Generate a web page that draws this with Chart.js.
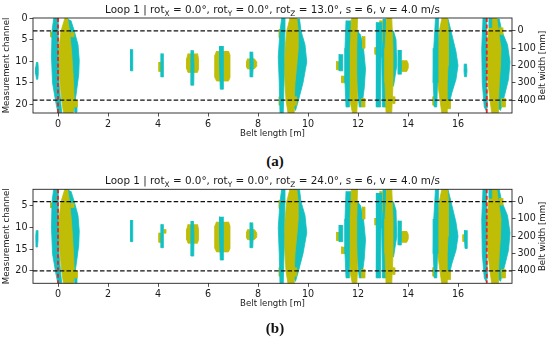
<!DOCTYPE html>
<html>
<head>
<meta charset="utf-8">
<script src="https://cdn.jsdelivr.net/npm/chart.js@4.4.1/dist/chart.umd.min.js"></script>
<style>
  body { margin: 0; background: #fff; }
  #wrap { position: relative; width: 550px; height: 340px; background: #fff; }
  canvas { position: absolute; left: 0; }
  .tag { position: absolute; width: 550px; text-align: center; font-family: "Liberation Serif", "DejaVu Serif", serif; font-weight: bold; font-size: 15px; line-height: 17px; color: #111; }
</style>
</head>
<body>
<div id="wrap">
  <canvas id="chartA" width="550" height="150" style="top:0px"></canvas>
  <div class="tag" style="top:153px">(a)</div>
  <canvas id="chartB" width="550" height="150" style="top:171px"></canvas>
  <div class="tag" style="top:320px">(b)</div>
</div>
<script>
// ticks
const xTicks = [0, 2, 4, 6, 8, 10, 12, 14, 16];
const channelTicksA = [0, 5, 10, 15, 20];
const channelTicksB = [5, 10, 15, 20];
const widthTicks = [0, 100, 200, 300, 400];

// belt edges (mm) and the red start/end markers (m)
const beltEdges = [0, 400];
const markers = [0, 17.15];

// titles: [text, subscript?]
const titleA = [["Loop 1 | rot", 0], ["X", 1], [" = 0.0°, rot", 0], ["Y", 1], [" = 0.0°, rot", 0], ["Z", 1], [" = 13.0°, s = 6, v = 4.0 m/s", 0]];
const titleB = [["Loop 1 | rot", 0], ["X", 1], [" = 0.0°, rot", 0], ["Y", 1], [" = 0.0°, rot", 0], ["Z", 1], [" = 24.0°, s = 6, v = 4.0 m/s", 0]];

// detected regions, [belt length m, belt width mm] outlines
// cyan drawn below the olive
const cyanUnder = [
  [[0.40,-70],[0.35,100],[0.35,300],[0.42,445],[0.60,470],[0.66,430],[0.74,350],[0.83,250],[0.85,170],[0.80,80],[0.65,0],[0.52,-60]],
  [[9.50,-70],[9.45,100],[9.35,300],[9.35,420],[9.50,460],[9.62,400],[9.80,300],[9.95,180],[9.88,80],[9.72,0],[9.66,-70]],
  [[11.90,-20],[11.88,150],[11.95,300],[12.05,440],[12.15,440],[12.25,330],[12.30,220],[12.22,100],[12.10,20]],
  [[13.00,-70],[12.95,150],[12.98,440],[13.12,440],[13.18,150],[13.12,-70]],
  [[13.32,0],[13.28,150],[13.32,300],[13.42,320],[13.55,200],[13.52,50],[13.42,0]],
  [[15.50,-70],[15.45,100],[15.45,300],[15.50,430],[15.62,440],[15.75,360],[15.92,280],[16.00,200],[15.92,120],[15.72,0],[15.60,-70]],
  [[17.55,-70],[17.50,100],[17.50,300],[17.58,440],[17.70,460],[17.85,380],[18.02,280],[18.08,180],[17.98,80],[17.75,0],[17.65,-70]],
  [[0.68,440],[0.68,470],[0.76,470],[0.76,440]]
];

const olive = [
  [[0.28,-75],[0.12,0],[0.04,100],[0.03,200],[0.08,300],[0.15,400],[0.22,475],[0.60,475],[0.65,400],[0.62,300],[0.58,200],[0.53,100],[0.46,0],[0.38,-75]],
  [[-0.30,5],[-0.30,35],[-0.22,35],[-0.22,5]],
  [[0.52,8],[0.52,34],[0.64,34],[0.64,8]],
  [[0.62,400],[0.62,440],[0.78,440],[0.78,400]],
  [[4.04,180],[4.04,235],[4.15,235],[4.15,180]],
  [[5.20,130],[5.15,160],[5.15,220],[5.20,240],[5.58,240],[5.62,220],[5.62,160],[5.58,130]],
  [[6.34,116],[6.28,140],[6.28,270],[6.34,290],[6.82,290],[6.88,270],[6.88,140],[6.82,116]],
  [[7.58,160],[7.55,175],[7.55,210],[7.58,220],[7.85,220],[7.95,205],[7.95,180],[7.85,160]],
  [[9.28,-75],[9.15,0],[9.08,100],[9.04,200],[9.08,300],[9.12,400],[9.20,475],[9.45,475],[9.45,400],[9.48,300],[9.55,200],[9.61,100],[9.61,0],[9.55,-75]],
  [[8.85,-10],[8.85,40],[8.93,40],[8.93,-10]],
  [[8.85,380],[8.85,430],[8.93,430],[8.93,380]],
  [[9.45,380],[9.45,430],[9.55,430],[9.55,380]],
  [[11.15,175],[11.15,225],[11.28,225],[11.28,175]],
  [[11.35,260],[11.35,300],[11.48,300],[11.48,260]],
  [[11.75,-75],[11.65,0],[11.62,150],[11.65,300],[11.70,420],[11.78,475],[11.95,475],[11.98,400],[11.95,250],[11.95,100],[11.98,-75]],
  [[12.18,30],[12.18,100],[12.28,100],[12.28,30]],
  [[12.15,390],[12.15,440],[12.28,440],[12.28,390]],
  [[12.88,-60],[12.88,60],[12.98,60],[12.98,-60]],
  [[13.15,-75],[13.08,100],[13.08,300],[13.12,470],[13.35,470],[13.40,300],[13.40,100],[13.35,-75]],
  [[12.68,95],[12.68,135],[12.78,135],[12.78,95]],
  [[13.40,380],[13.40,420],[13.48,420],[13.48,380]],
  [[13.76,170],[13.70,190],[13.70,215],[13.76,235],[13.95,235],[14.01,215],[14.01,190],[13.95,170]],
  [[15.36,-75],[15.25,0],[15.18,100],[15.17,200],[15.20,300],[15.28,400],[15.35,475],[15.58,475],[15.58,400],[15.56,300],[15.60,200],[15.62,100],[15.62,0],[15.58,-75]],
  [[15.00,380],[15.00,430],[15.10,430],[15.10,380]],
  [[15.58,400],[15.58,450],[15.70,450],[15.70,400]],
  [[17.32,-75],[17.22,0],[17.17,100],[17.17,200],[17.20,300],[17.28,400],[17.35,475],[17.60,475],[17.62,400],[17.65,300],[17.70,200],[17.72,100],[17.62,0],[17.55,-75]],
  [[17.68,-20],[17.68,20],[17.80,20],[17.80,-20]],
  [[17.75,390],[17.75,440],[17.90,440],[17.90,390]],
  [[17.02,-20],[17.02,15],[17.10,15],[17.10,-20]]
];

// cyan drawn over the olive
const cyanOver = [
  [[-0.17,-75],[-0.24,0],[-0.26,150],[-0.22,300],[-0.08,420],[0.00,475],[0.15,475],[0.10,400],[0.04,300],[0.02,150],[0.02,0],[0.00,-75]],
  [[2.91,106],[2.91,231],[2.99,231],[2.99,106]],
  [[4.13,131],[4.12,200],[4.13,266],[4.21,266],[4.22,200],[4.21,131]],
  [[5.34,112],[5.32,200],[5.33,314],[5.43,314],[5.44,200],[5.42,112]],
  [[6.47,87],[6.46,200],[6.49,337],[6.61,337],[6.63,200],[6.60,87]],
  [[7.69,121],[7.68,190],[7.70,266],[7.79,266],[7.81,190],[7.79,121]],
  [[8.95,-75],[8.88,0],[8.81,150],[8.85,300],[8.88,475],[9.01,475],[9.04,300],[9.04,150],[9.08,0],[9.08,-75]],
  [[11.25,135],[11.25,231],[11.39,231],[11.39,135]],
  [[11.52,-60],[11.48,100],[11.48,300],[11.52,440],[11.64,440],[11.65,300],[11.66,100],[11.70,-60]],
  [[12.75,-50],[12.72,150],[12.75,440],[12.90,440],[12.92,150],[12.95,-50]],
  [[13.61,110],[13.60,180],[13.62,250],[13.72,250],[13.75,180],[13.72,110]],
  [[15.10,-75],[15.03,100],[15.01,300],[15.05,440],[15.15,440],[15.18,300],[15.20,100],[15.22,-75]],
  [[17.00,-75],[16.95,100],[16.97,300],[17.05,440],[17.12,460],[17.18,440],[17.15,300],[17.15,100],[17.14,-75]],
  [[17.25,-75],[17.25,-20],[17.35,-20],[17.35,-75]]
];

// small bits that differ between the two runs
const smallCyanA = [
  [[-0.86,180],[-0.89,210],[-0.89,250],[-0.86,280],[-0.81,280],[-0.79,250],[-0.79,210],[-0.81,180]],
  [[16.25,190],[16.24,230],[16.26,265],[16.34,265],[16.36,230],[16.34,190]]
];
const smallOliveA = [];
const smallCyanB = [
  [[-0.87,165],[-0.89,200],[-0.88,262],[-0.82,262],[-0.80,220],[-0.80,165]],
  [[16.27,165],[16.26,220],[16.28,270],[16.36,270],[16.38,220],[16.36,165]]
];
const smallOliveB = [
  [[4.25,160],[4.25,182],[4.32,182],[4.32,160]],
  [[16.20,190],[16.20,230],[16.28,230],[16.28,190]]
];

const CYAN = "#12c0c2";
const OLIVE = "#bfbd06";
const INK = "#1a1a1a";
const FONT = "'DejaVu Sans', sans-serif";

function polys(list, color, order) {
  return list.map(p => ({
    data: p.map(([x, y]) => ({ x: x, y: y })),
    yAxisID: "mm",
    showLine: true,
    fill: "shape",
    tension: 0,
    backgroundColor: color,
    borderColor: color,
    borderWidth: 0.8,
    pointRadius: 0,
    order: order
  }));
}

function guideLines(xMin, xMax, yMin, yMax) {
  const sets = [];
  beltEdges.forEach(v => sets.push({
    data: [{ x: xMin, y: v }, { x: xMax, y: v }],
    yAxisID: "mm", showLine: true, fill: false, pointRadius: 0,
    borderColor: "#111", borderWidth: 1.2, borderDash: [4.5, 2.2], order: 2
  }));
  markers.forEach(v => sets.push({
    data: [{ x: v, y: yMin }, { x: v, y: yMax }],
    yAxisID: "mm", showLine: true, fill: false, pointRadius: 0,
    borderColor: "#f0221f", borderWidth: 1.8, borderDash: [4, 2.5], order: 1
  }));
  return sets;
}

// frame, title with subscripts and axis titles
const decor = {
  id: "decor",
  afterDatasetsDraw(chart, args, opts) {
    const { ctx, chartArea: a } = chart;
    ctx.save();
    ctx.strokeStyle = "#222";
    ctx.lineWidth = 0.9;
    ctx.strokeRect(a.left, a.top, a.right - a.left, a.bottom - a.top);

    ctx.fillStyle = INK;
    ctx.textBaseline = "alphabetic";
    const big = "10.4px " + FONT, small = "7.4px " + FONT;
    let total = 0;
    opts.title.forEach(([t, sub]) => { ctx.font = sub ? small : big; total += ctx.measureText(t).width; });
    let x = (a.left + a.right) / 2 - total / 2;
    ctx.textAlign = "left";
    opts.title.forEach(([t, sub]) => {
      ctx.font = sub ? small : big;
      ctx.fillText(t, x, opts.titleY + (sub ? 2.5 : 0));
      x += ctx.measureText(t).width;
    });

    ctx.font = "8.6px " + FONT;
    ctx.textAlign = "center";
    ctx.textBaseline = "middle";
    ctx.fillText("Belt length [m]", (a.left + a.right) / 2, a.bottom + 20.5);
    const cy = (a.top + a.bottom) / 2;
    ctx.save();
    ctx.translate(7, cy);
    ctx.rotate(-Math.PI / 2);
    ctx.fillText("Measurement channel", 0, 0);
    ctx.restore();
    ctx.save();
    ctx.translate(543, cy);
    ctx.rotate(-Math.PI / 2);
    ctx.fillText("Belt width [mm]", 0, 0);
    ctx.restore();
    ctx.restore();
  }
};

function makeChart(id, cfg) {
  const tickStyle = { color: INK, font: { family: FONT, size: 9.6 }, padding: 2 };
  const gridStyle = { display: true, drawOnChartArea: false, drawTicks: true, tickLength: 3.5, color: "#222", lineWidth: 0.8 };
  const xMin = -1.0, xMax = 18.16;
  const datasets = []
    .concat(polys(cyanUnder, CYAN, 6))
    .concat(polys(olive.concat(cfg.smallOlive), OLIVE, 5))
    .concat(polys(cyanOver.concat(cfg.smallCyan), CYAN, 4))
    .concat(guideLines(xMin, xMax, cfg.mmMin, cfg.mmMax));

  return new Chart(document.getElementById(id).getContext("2d"), {
    type: "scatter",
    data: { datasets: datasets },
    plugins: [decor],
    options: {
      responsive: false,
      animation: false,
      layout: { padding: { top: cfg.top, left: 0, right: 0, bottom: 0 } },
      plugins: {
        legend: { display: false },
        tooltip: { enabled: false },
        decor: { title: cfg.title, titleY: 13 }
      },
      scales: {
        x: {
          type: "linear", min: xMin, max: xMax,
          afterBuildTicks: s => { s.ticks = xTicks.map(v => ({ value: v })); },
          afterFit: s => { s.height = cfg.xHeight; },
          ticks: tickStyle, grid: gridStyle, border: { display: false }
        },
        ch: {
          type: "linear", position: "left", reverse: true, min: cfg.chMin, max: cfg.chMax,
          afterBuildTicks: s => { s.ticks = cfg.chTicks.map(v => ({ value: v })); },
          afterFit: s => { s.width = 33; },
          ticks: tickStyle, grid: gridStyle, border: { display: false }
        },
        mm: {
          type: "linear", position: "right", reverse: true, min: cfg.mmMin, max: cfg.mmMax,
          afterBuildTicks: s => { s.ticks = widthTicks.map(v => ({ value: v })); },
          afterFit: s => { s.width = 38; },
          ticks: tickStyle, grid: gridStyle, border: { display: false }
        }
      }
    }
  });
}

document.addEventListener("DOMContentLoaded", function () {
  makeChart("chartA", {
    title: titleA, top: 18, xHeight: 37,
    chMin: 0, chMax: 22, chTicks: channelTicksA,
    mmMin: -75, mmMax: 475,
    smallCyan: smallCyanA, smallOlive: smallOliveA
  });
  makeChart("chartB", {
    title: titleB, top: 18.3, xHeight: 37.7,
    chMin: 1.15, chMax: 22.85, chTicks: channelTicksB,
    mmMin: -71.25, mmMax: 471.25,
    smallCyan: smallCyanB, smallOlive: smallOliveB
  });
});
</script>
</body>
</html>
